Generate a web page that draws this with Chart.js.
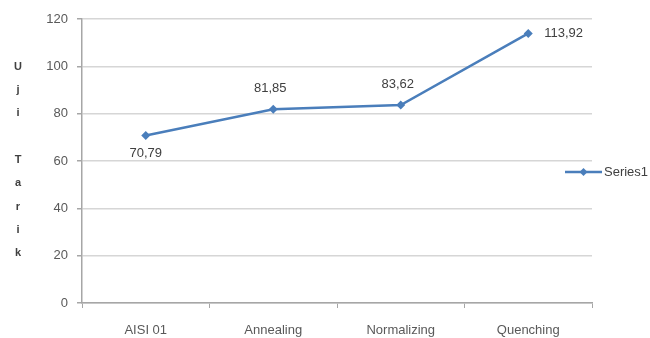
<!DOCTYPE html>
<html>
<head>
<meta charset="utf-8">
<script src="https://cdn.jsdelivr.net/npm/chart.js@4.4.1/dist/chart.umd.min.js"></script>
<style>
  html, body { margin: 0; padding: 0; background: #ffffff; }
  #wrap { width: 650px; height: 338px; position: relative; }
</style>
</head>
<body>
<div id="wrap"><canvas id="chart"></canvas></div>
<script>
// Heat-treatment tensile test results
const categories = ['AISI 01', 'Annealing', 'Normalizing', 'Quenching'];
const tensileValues = [70.79, 81.85, 83.62, 113.92];
const seriesName = 'Series1';
const axisTitle = 'Uji Tarik';
const yMin = 0;
const yMax = 120;
const yStep = 20;

const LINE_BLUE = '#4a7ebb';
const TEXT_GREY = '#595959';
const FONT = '"Liberation Sans", Arial, sans-serif';

// Values written with a decimal comma
const fmt = v => v.toFixed(2).replace('.', ',');

// Value labels next to each point
const valueLabelPlugin = {
  id: 'valueLabels',
  afterDatasetsDraw(chart, args, opts) {
    const ctx = chart.ctx;
    const meta = chart.getDatasetMeta(0);
    ctx.save();
    ctx.font = '13px ' + FONT;
    ctx.fillStyle = '#404040';
    ctx.textBaseline = 'middle';
    meta.data.forEach((pt, i) => {
      const place = opts.placement[i];
      const text = fmt(chart.data.datasets[0].data[i]);
      if (place === 'right') {
        ctx.textAlign = 'left';
        ctx.fillText(text, pt.x + 16, pt.y);
      } else if (place === 'below') {
        ctx.textAlign = 'center';
        ctx.fillText(text, pt.x, pt.y + 18);
      } else {
        ctx.textAlign = 'center';
        ctx.fillText(text, pt.x - 3, pt.y - 21);
      }
    });
    ctx.restore();
  }
};

// Vertical stacked-letter axis title on the left
const stackedTitlePlugin = {
  id: 'stackedTitle',
  afterDraw(chart) {
    const ctx = chart.ctx;
    const area = chart.chartArea;
    const letters = axisTitle.split('');
    const step = 23.3;
    const mid = (area.top + area.bottom) / 2 - 1;
    const start = mid - step * (letters.length - 1) / 2;
    ctx.save();
    ctx.font = 'bold 11px ' + FONT;
    ctx.fillStyle = '#404040';
    ctx.textAlign = 'center';
    ctx.textBaseline = 'middle';
    letters.forEach((ch, i) => {
      if (ch.trim()) ctx.fillText(ch, 18, start + i * step);
    });
    ctx.restore();
  }
};

// Legend entry: line with diamond marker, then series name
const sideLegendPlugin = {
  id: 'sideLegend',
  afterDraw(chart) {
    const ctx = chart.ctx;
    const y = 172;
    const x0 = 565, x1 = 602;
    ctx.save();
    ctx.strokeStyle = LINE_BLUE;
    ctx.lineWidth = 2.5;
    ctx.beginPath();
    ctx.moveTo(x0, y);
    ctx.lineTo(x1, y);
    ctx.stroke();
    const cx = (x0 + x1) / 2, r = 4;
    ctx.fillStyle = LINE_BLUE;
    ctx.beginPath();
    ctx.moveTo(cx, y - r);
    ctx.lineTo(cx + r, y);
    ctx.lineTo(cx, y + r);
    ctx.lineTo(cx - r, y);
    ctx.closePath();
    ctx.fill();
    ctx.font = '13px ' + FONT;
    ctx.fillStyle = '#404040';
    ctx.textAlign = 'left';
    ctx.textBaseline = 'middle';
    ctx.fillText(seriesName, x1 + 2, y);
    ctx.restore();
  }
};

new Chart(document.getElementById('chart'), {
  type: 'line',
  data: {
    labels: categories,
    datasets: [{
      label: seriesName,
      data: tensileValues,
      borderColor: LINE_BLUE,
      backgroundColor: LINE_BLUE,
      borderWidth: 2.5,
      tension: 0,
      pointStyle: 'rectRot',
      pointRadius: 4.5,
      pointHoverRadius: 4.5,
      pointBorderWidth: 0
    }]
  },
  options: {
    responsive: true,
    maintainAspectRatio: false,
    animation: false,
    events: [],
    layout: { padding: { left: 0, right: 58, top: 19, bottom: 0 } },
    plugins: {
      legend: { display: false },
      tooltip: { enabled: false },
      valueLabels: { placement: ['below', 'above', 'above', 'right'] }
    },
    scales: {
      x: {
        type: 'category',
        offset: true,
        afterFit(scale) { scale.height = 35; },
        grid: {
          offset: true,
          drawOnChartArea: false,
          drawTicks: true,
          tickLength: 5,
          tickColor: '#a6a6a6'
        },
        border: { color: '#a6a6a6', width: 1.5 },
        ticks: {
          color: TEXT_GREY,
          font: { family: FONT, size: 13 },
          padding: 15,
          maxRotation: 0
        }
      },
      y: {
        min: yMin,
        max: yMax,
        afterFit(scale) { scale.width = 82; },
        grid: {
          color: '#d6d6d6',
          lineWidth: 1.5,
          tickLength: 5,
          tickColor: '#a6a6a6'
        },
        border: { color: '#a6a6a6', width: 1.5 },
        ticks: {
          stepSize: yStep,
          color: TEXT_GREY,
          font: { family: FONT, size: 13 },
          padding: 9
        }
      }
    }
  },
  plugins: [valueLabelPlugin, stackedTitlePlugin, sideLegendPlugin]
});
</script>
</body>
</html>
